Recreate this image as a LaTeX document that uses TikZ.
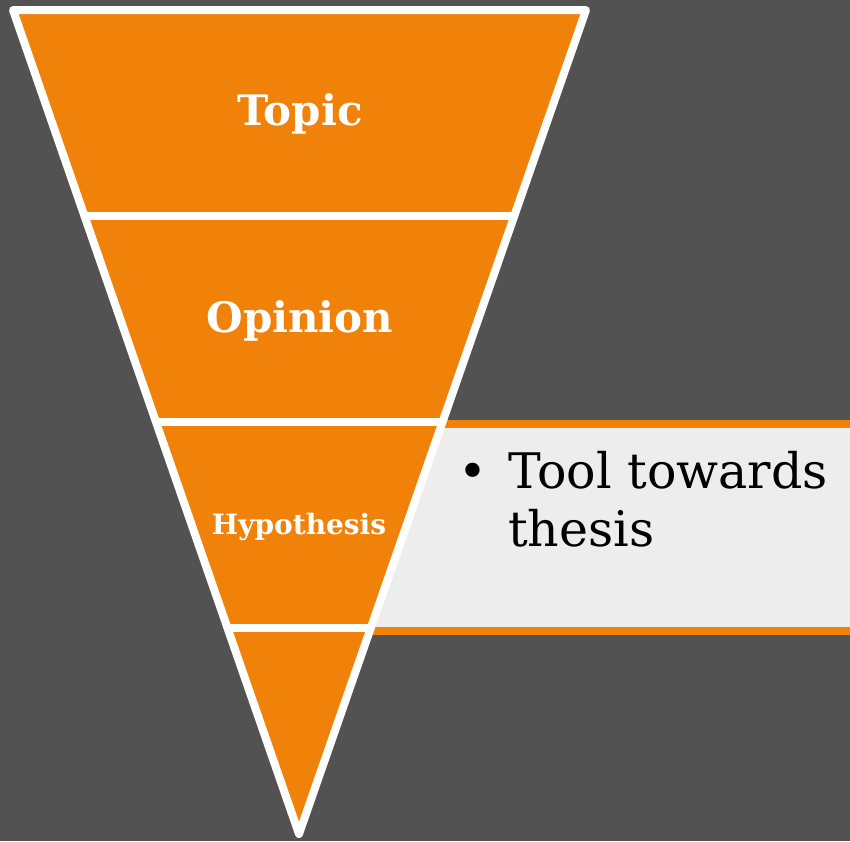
\documentclass[tikz,border=0pt]{standalone}
\usepackage{fontspec}
\newfontfamily\slab{DejaVu Serif}
\usetikzlibrary{calc}
\definecolor{bg}{HTML}{525252}
\definecolor{org}{HTML}{F0820A}
\definecolor{boxg}{HTML}{EDEDED}
\tikzset{
  whiteline/.style={draw=white,line width=8pt,line join=round,line cap=round},
  bandlabel/.style={text=white,font=\slab\bfseries\fontsize{42}{42}\selectfont},
  bodytext/.style={text=black,font=\slab\fontsize{49}{49}\selectfont,inner sep=0pt,anchor=base west}
}
\begin{document}
\begin{tikzpicture}[x=1pt,y=-1pt]
\fill[bg] (0,0) rectangle (850,841);
\useasboundingbox (0,0) rectangle (850,841);
% side box
\fill[boxg] (300,424) rectangle (850,631);
\draw[org,line width=8pt] (300,424) -- (850,424);
\draw[org,line width=8pt] (300,631) -- (850,631);
% funnel
\coordinate (A) at (13,10);
\coordinate (B) at (586,10);
\coordinate (C) at (299,834);
\fill[org] (A) -- (B) -- (C) -- cycle;
\coordinate (l1) at ($(A)!0.25!(C)$);
\coordinate (r1) at ($(B)!0.25!(C)$);
\coordinate (l2) at ($(A)!0.5!(C)$);
\coordinate (r2) at ($(B)!0.5!(C)$);
\coordinate (l3) at ($(A)!0.75!(C)$);
\coordinate (r3) at ($(B)!0.75!(C)$);
\draw[whiteline] (l1) -- (r1);
\draw[whiteline] (l2) -- (r2);
\draw[whiteline] (l3) -- (r3);
\draw[whiteline] (A) -- (B) -- (C) -- cycle;
% labels
\node[bandlabel] (topic) at (300,114) {Topic};
\node[bandlabel] (opinion) at (300,321) {Opinion};
\node[bandlabel,font=\slab\bfseries\fontsize{28}{28}\selectfont] (hyp) at (299,527) {Hypothesis};
\node[bodytext] (bullet) at (458,488) {•};
\node[bodytext] (line1) at (508,488) {Tool towards};
\node[bodytext] (line2) at (508,546) {thesis};
\end{tikzpicture}
\end{document}
